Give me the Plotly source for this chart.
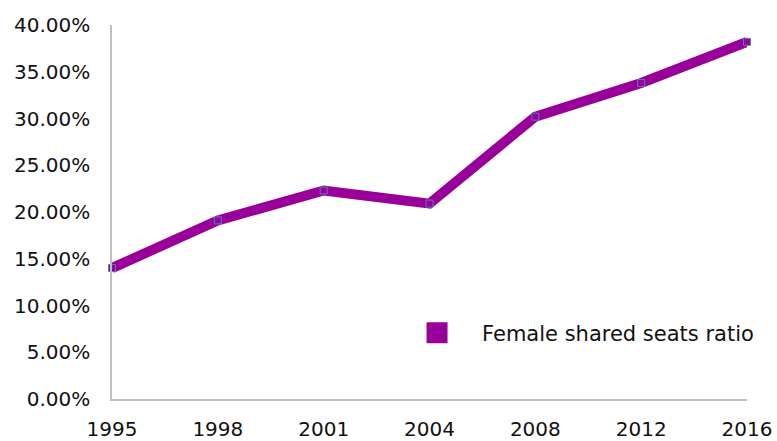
import plotly.graph_objects as go

years = ["1995", "1998", "2001", "2004", "2008", "2012", "2016"]
ratio = [0.140, 0.191, 0.223, 0.209, 0.302, 0.338, 0.382]
y_ticks = [0, 0.05, 0.10, 0.15, 0.20, 0.25, 0.30, 0.35, 0.40]
series_name = "Female shared seats ratio"

PURPLE = "#990099"
FONT = "DejaVu Sans"

fig = go.Figure()
fig.add_trace(go.Scatter(
    x=years, y=ratio, mode="lines+markers", name=series_name,
    line=dict(color=PURPLE, width=10),
    marker=dict(symbol="square", size=7, color=PURPLE,
                line=dict(color="#4f81bd", width=1)),
    cliponaxis=False, showlegend=False,
))
# legend entry shown as a filled square
fig.add_trace(go.Scatter(
    x=[None], y=[None], mode="markers", name=series_name,
    marker=dict(symbol="square", size=16, color=PURPLE,
                line=dict(color=PURPLE, width=5)),
))

fig.update_layout(
    width=777, height=441,
    margin=dict(l=112, r=30, t=25, b=42),
    paper_bgcolor="white", plot_bgcolor="white",
    font=dict(family=FONT, size=20, color="#111111"),
    legend=dict(x=0.441, y=0.176, xanchor="left", yanchor="middle",
                itemwidth=80,
                bgcolor="rgba(0,0,0,0)", font=dict(family=FONT, size=21)),
    xaxis=dict(type="category", range=[0, 6], showgrid=False,
               showline=True, linecolor="#bfbfbf", linewidth=1.5,
               ticks="", ticklabelstandoff=11, zeroline=False,
               automargin=False),
    yaxis=dict(range=[0, 0.40], tickvals=y_ticks, tickformat=".2%",
               showgrid=False, showline=True, linecolor="#bfbfbf",
               linewidth=1.5, ticks="", ticklabelstandoff=16,
               zeroline=False, automargin=False),
)

# remove the default page margin so the 777x441 figure fills the window
fig.write_html(
    "out.html",
    config={"displayModeBar": False},
    post_script="document.body.style.margin='0';"
                "document.documentElement.style.overflow='hidden';",
)
